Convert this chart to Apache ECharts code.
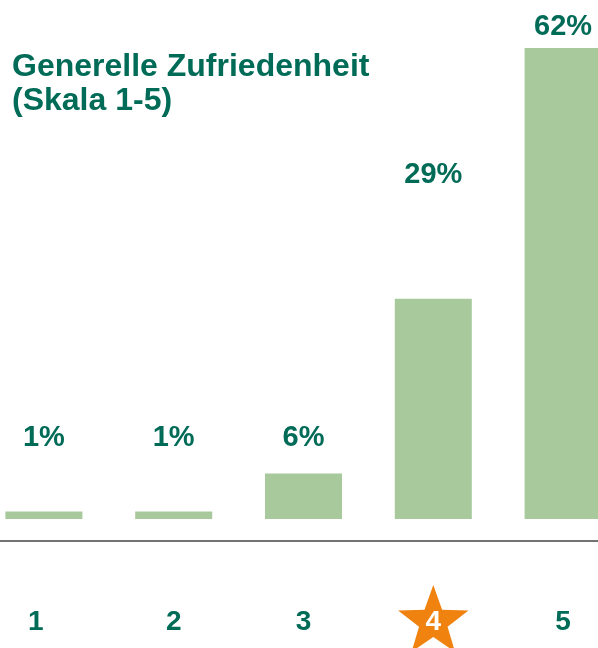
<!DOCTYPE html>
<html>
<head>
<meta charset="utf-8">
<script src="https://cdn.jsdelivr.net/npm/echarts@6/dist/echarts.min.js"></script>
<style>
html, body { margin: 0; padding: 0; background: #fff; }
#chart { width: 598px; height: 648px; }
</style>
</head>
<body>
<div id="chart"></div>
<script>
// Skala 1-5, Anteil in Prozent
var categories = ['1', '2', '3', '4', '5'];
var values = [1, 1, 6, 29, 62];

var green = '#006b57';
var barColor = '#a8c99c';
var orange = '#f0820f';

// label offsets: the labels sit at hand-picked heights in the original
var labelShift = [-54, -54, -16, -104, -2];

var myChart = echarts.init(document.getElementById('chart'));

var data = [];
for (var i = 0; i < values.length; i++) {
	data.push({
		value: values[i],
		label: { offset: [0, labelShift[i]] }
	});
}

var catData = [];
for (var j = 0; j < categories.length; j++) {
	var item = { value: categories[j] };
	if (j === 0) item.textStyle = { padding: [0, 16, 0, 0] };
	catData.push(item);
}

var option = {
	animation: false,
	title: {
		text: 'Generelle Zufriedenheit\n(Skala 1-5)',
		left: 7,
		top: 45,
		textStyle: {
			fontFamily: 'Liberation Sans',
			fontWeight: 'bold',
			fontSize: 32,
			lineHeight: 34,
			color: green
		}
	},
	grid: { left: -21, right: -30, top: 48, bottom: 129, containLabel: false, outerBoundsMode: 'none' },
	xAxis: {
		type: 'category',
		data: catData,
		offset: 22,
		axisLine: { onZero: false, lineStyle: { color: '#444', width: 1.5 } },
		axisTick: { show: false },
		axisLabel: {
			margin: 67,
			fontFamily: 'Liberation Sans',
			fontWeight: 'bold',
			fontSize: 28,
			color: function (v) { return v === '4' ? '#fff' : green; }
		}
	},
	yAxis: {
		type: 'value',
		min: 0,
		max: 62,
		show: false
	},
	series: [{
		type: 'bar',
		data: data,
		barWidth: 77,
		itemStyle: { color: barColor },
		label: {
			show: true,
			position: 'top',
			formatter: '{c}%',
			fontFamily: 'Liberation Sans',
			fontWeight: 'bold',
			fontSize: 29,
			color: green
		}
	}]
};
myChart.setOption(option);

// orange star behind category "4"
var cx = myChart.convertToPixel({ xAxisIndex: 0 }, '4');
var cy = 622, R = 37, r = 15;
var pts = [];
for (var k = 0; k < 10; k++) {
	var rad = k % 2 === 0 ? R : r;
	var ang = -Math.PI / 2 + k * Math.PI / 5;
	pts.push([cx + rad * Math.cos(ang), cy + rad * Math.sin(ang)]);
}
myChart.setOption({
	graphic: [{
		type: 'polygon',
		z: -1,
		shape: { points: pts },
		style: { fill: orange }
	}]
});
</script>
</body>
</html>
